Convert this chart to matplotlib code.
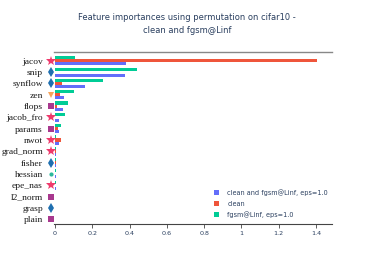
import numpy as np
import matplotlib.pyplot as plt

# features, top to bottom as shown
features = ["jacov", "snip", "synflow", "zen", "flops", "jacob_fro", "params",
            "nwot", "grad_norm", "fisher", "hessian", "epe_nas", "l2_norm",
            "grasp", "plain"]

# permutation importances
both = [0.38, 0.374, 0.161, 0.048, 0.041, 0.02, 0.023,
        0.02, 0.006, 0.005, 0.004, 0.004, 0.003, 0.002, 0.001]
clean = [1.405, 0.0, 0.036, 0.027, 0.01, 0.0, 0.018,
         0.03, 0.004, 0.004, 0.003, 0.002, 0.002, 0.001, 0.0]
fgsm = [0.11, 0.44, 0.256, 0.104, 0.068, 0.055, 0.032,
        0.008, 0.006, 0.005, 0.005, 0.004, 0.003, 0.003, 0.002]

# marker kind drawn next to each label
kinds = ["star", "diamond", "diamond", "tri", "square", "star", "square",
         "star", "star", "diamond", "circle", "star", "square", "diamond", "square"]
kind_style = {
    "star": ("*", "#EE3A6C", 7),
    "diamond": ("d", "#1F6FB0", 5),
    "tri": ("v", "#F7A45C", 5),
    "square": ("s", "#A8388E", 5),
    "circle": ("o", "#2DB89C", 3),
}

txt = "#2a3f5f"
fig = plt.figure(figsize=(3.74, 2.67), dpi=100)
ax = fig.add_axes([0.1444, 0.161, 0.8877 - 0.1444, 0.8052 - 0.161])

n = len(features)
y = np.arange(n)[::-1]
h = 0.8 / 3
ax.barh(y - h, both, height=h, color="#636EFA", label="clean and fgsm@Linf, eps=1.0")
ax.barh(y, clean, height=h, color="#EF553B", label="clean")
ax.barh(y + h, fgsm, height=h, color="#00CC96", label="fgsm@Linf, eps=1.0")

for yi, k in zip(y, kinds):
    m, c, s = kind_style[k]
    ax.plot(-0.02, yi, marker=m, color=c, markersize=s, clip_on=False,
            markeredgewidth=0, zorder=5)

ax.set_xlim(-0.005, 1.486)
ax.set_ylim(-0.42, n - 1 + 0.77)
ax.set_yticks(y)
ax.set_yticklabels(features, family="Liberation Serif", fontsize=6.8, color="#1a1a1a")
ax.tick_params(axis="y", length=0, pad=8)
ax.set_xticks([0, 0.2, 0.4, 0.6, 0.8, 1, 1.2, 1.4])
ax.set_xticklabels(["0", "0.2", "0.4", "0.6", "0.8", "1", "1.2", "1.4"])
ax.tick_params(axis="x", length=3, width=0.6, color="#444", labelsize=4.6,
               labelcolor=txt, pad=2)

for side in ["left", "right"]:
    ax.spines[side].set_visible(False)
ax.spines["bottom"].set_color("#444")
ax.spines["bottom"].set_linewidth(0.8)
ax.spines["top"].set_color("#888")
ax.spines["top"].set_linewidth(1.0)

fig.suptitle("Feature importances using permutation on cifar10 -\nclean and fgsm@Linf",
             x=0.5, y=0.95, fontsize=6.0, color=txt, linespacing=1.45)

ax.legend(loc="lower left", bbox_to_anchor=(0.555, 0.0), frameon=False,
          fontsize=4.7, labelcolor=txt, handlelength=0.8, handleheight=0.8,
          handletextpad=1.2, labelspacing=0.7)

fig.savefig("out.png", dpi=100)
